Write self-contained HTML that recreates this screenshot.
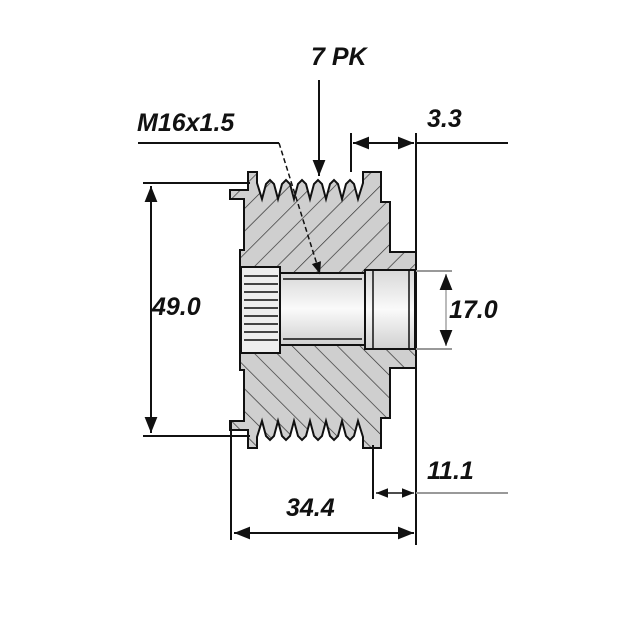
<!DOCTYPE html>
<html><head><style>body{margin:0;background:#fff}svg{display:block}
text{font-family:"Liberation Sans",sans-serif;font-weight:bold;font-style:italic;fill:#111}</style></head>
<body>
<svg width="629" height="629" viewBox="0 0 629 629" xmlns="http://www.w3.org/2000/svg">
<defs>
<pattern id="h" patternUnits="userSpaceOnUse" width="16" height="16" patternTransform="rotate(45)">
<rect width="16" height="16" fill="#cfcfcf"/><line x1="0" y1="0" x2="0" y2="16" stroke="#333" stroke-width="1.4"/></pattern>
<linearGradient id="g" x1="0" y1="0" x2="0" y2="1"><stop offset="0" stop-color="#d8d8d8"/><stop offset="0.5" stop-color="#fafafa"/><stop offset="1" stop-color="#d0d0d0"/></linearGradient>
<marker id="a" viewBox="0 0 10 10" refX="10" refY="5" markerWidth="8" markerHeight="8" orient="auto-start-reverse"><path d="M0,1 L10,5 L0,9 z" fill="#111"/></marker>
</defs>
<path id="top" d="M244,310 L240,310 L240,250 L244,250 L244,199 L230,199 L230,190 L248,190 L248,172 L257,172 L257,183
 L262,199 L266,184 L270,180 L274,184 L278,199 L282,184 L286,180 L290,184 L294,199 L298,184 L302,180 L306,184 L310,199 L314,184 L318,180 L322,184 L326,199 L330,184 L334,180 L338,184 L342,199 L346,184 L350,180 L354,184 L358,199 L363,183
 L363,172 L381,172 L381,202 L390,202 L390,252 L416,252 L416,310 Z" fill="url(#h)" stroke="#111" stroke-width="2"/>
<use href="#top" transform="translate(0,620) scale(1,-1)"/>
<rect x="241" y="267" width="39" height="86" fill="#eee" stroke="#111" stroke-width="2"/>
<g stroke="#444" stroke-width="2">
<line x1="244" y1="276" x2="278" y2="276"/><line x1="244" y1="284" x2="278" y2="284"/><line x1="244" y1="292" x2="278" y2="292"/><line x1="244" y1="300" x2="278" y2="300"/><line x1="244" y1="308" x2="278" y2="308"/><line x1="244" y1="316" x2="278" y2="316"/><line x1="244" y1="324" x2="278" y2="324"/><line x1="244" y1="332" x2="278" y2="332"/><line x1="244" y1="340" x2="278" y2="340"/></g>
<rect x="280" y="273" width="86" height="72" fill="url(#g)" stroke="#111" stroke-width="2"/>
<line x1="283" y1="279" x2="362" y2="279" stroke="#111" stroke-width="1.5"/>
<line x1="283" y1="339" x2="362" y2="339" stroke="#111" stroke-width="1.5"/>
<rect x="365" y="270" width="50" height="79" fill="url(#g)" stroke="#111" stroke-width="2"/>
<line x1="373" y1="270" x2="373" y2="349" stroke="#111" stroke-width="1.5"/>
<line x1="409" y1="270" x2="409" y2="349" stroke="#111" stroke-width="1.5"/>
<g stroke="#111" stroke-width="2" fill="none">
<line x1="143" y1="183" x2="250" y2="183"/><line x1="143" y1="436" x2="250" y2="436"/>
<line x1="151" y1="186" x2="151" y2="433" marker-start="url(#a)" marker-end="url(#a)"/>
<line x1="416" y1="133" x2="416" y2="545"/>
<line x1="231" y1="420" x2="231" y2="540"/>
<line x1="234" y1="533" x2="414" y2="533" marker-start="url(#a)" marker-end="url(#a)"/>
<line x1="373" y1="445" x2="373" y2="499"/>
<line x1="376" y1="493" x2="414" y2="493" marker-start="url(#a)" marker-end="url(#a)" stroke-width="1.5"/>
<line x1="416" y1="493" x2="508" y2="493" stroke="#999"/>
<line x1="351" y1="133" x2="351" y2="172"/>
<line x1="353" y1="143" x2="414" y2="143" marker-start="url(#a)" marker-end="url(#a)"/>
<line x1="416" y1="143" x2="508" y2="143"/>
<line x1="416" y1="271" x2="452" y2="271" stroke="#999"/><line x1="416" y1="349" x2="452" y2="349" stroke="#999"/>
<line x1="446" y1="274" x2="446" y2="346" stroke="#bbb" marker-start="url(#a)" marker-end="url(#a)"/>
<line x1="319" y1="80" x2="319" y2="176" marker-end="url(#a)"/>
<line x1="138" y1="143" x2="279" y2="143"/>
<line x1="279" y1="143" x2="320" y2="274" stroke-dasharray="5,3" marker-end="url(#a)" stroke-width="1.5"/>
</g>
<g font-size="25">
<text x="311" y="65">7 PK</text>
<text x="137" y="131">M16x1.5</text>
<text x="427" y="127">3.3</text>
<text x="152" y="315">49.0</text>
<text x="449" y="318">17.0</text>
<text x="427" y="479">11.1</text>
<text x="286" y="516">34.4</text>
</g>
</svg>
</body></html>
